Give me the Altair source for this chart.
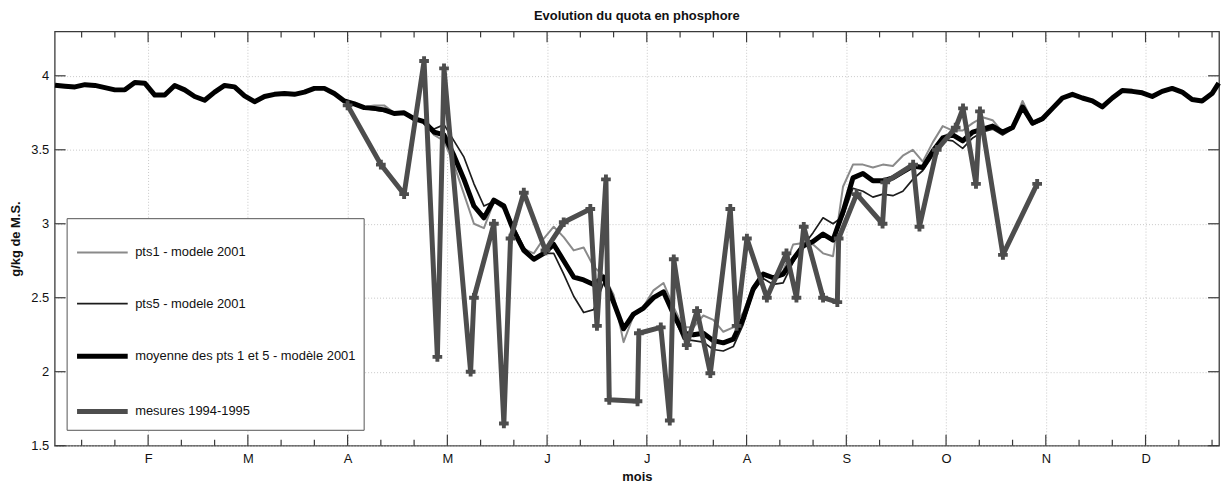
import json
import altair as alt
import pandas as pd

# ---------------- data ----------------
# model outputs sampled every 3 days (x = day, 30-day months, F = 30)
days = list(range(2, 351, 3)) + [352]

common_start = [3.936, 3.93, 3.925, 3.94, 3.935, 3.92, 3.905, 3.905, 3.955, 3.95,
                3.87, 3.87, 3.935, 3.905, 3.86, 3.835, 3.89, 3.935, 3.925, 3.865,
                3.825, 3.86, 3.875, 3.88, 3.875, 3.89, 3.915, 3.915, 3.88, 3.83]

common_end = [3.78, 3.85, 3.875, 3.85, 3.83, 3.79, 3.85, 3.90, 3.895, 3.885,
              3.86, 3.895, 3.915, 3.89, 3.84, 3.83, 3.88, 3.95]

pts1_mid = [3.82, 3.79, 3.80, 3.80, 3.75, 3.75, 3.71, 3.69, 3.60, 3.56,
            3.40, 3.20, 3.00, 2.97, 3.15, 3.10, 2.95, 2.83, 2.80, 2.90,
            2.98, 2.91, 2.82, 2.84, 2.71, 2.65, 2.52, 2.20, 2.38, 2.44,
            2.55, 2.60, 2.44, 2.30, 2.30, 2.38, 2.35, 2.27, 2.30, 2.40,
            2.58, 2.66, 2.64, 2.68, 2.86, 2.87, 2.86, 2.80, 2.78, 3.25,
            3.40, 3.40, 3.38, 3.40, 3.39, 3.46, 3.50, 3.42, 3.55, 3.66,
            3.63, 3.63, 3.68, 3.72, 3.70, 3.62, 3.66, 3.83, 3.69, 3.72]

pts5_mid = [3.81, 3.78, 3.77, 3.76, 3.74, 3.745, 3.70, 3.69, 3.64, 3.67,
            3.56, 3.45, 3.27, 3.12, 3.15, 3.13, 2.98, 2.84, 2.77, 2.80,
            2.80, 2.66, 2.51, 2.40, 2.42, 2.60, 2.45, 2.30, 2.38, 2.42,
            2.50, 2.53, 2.38, 2.22, 2.21, 2.20, 2.15, 2.14, 2.17, 2.32,
            2.54, 2.63, 2.59, 2.60, 2.74, 2.85, 2.94, 3.04, 3.00, 3.05,
            3.24, 3.22, 3.18, 3.20, 3.19, 3.22, 3.30, 3.36, 3.46, 3.57,
            3.56, 3.51, 3.58, 3.62, 3.64, 3.60, 3.64, 3.77, 3.67, 3.70]

mean_mid = [3.81, 3.785, 3.78, 3.77, 3.745, 3.75, 3.71, 3.69, 3.62, 3.60,
            3.46, 3.30, 3.12, 3.04, 3.16, 3.12, 2.95, 2.82, 2.76, 2.80,
            2.86, 2.75, 2.64, 2.62, 2.59, 2.64, 2.47, 2.29, 2.39, 2.43,
            2.50, 2.54, 2.39, 2.26, 2.25, 2.26, 2.21, 2.195, 2.22, 2.36,
            2.56, 2.66, 2.635, 2.66, 2.76, 2.85, 2.88, 2.93, 2.89, 3.08,
            3.31, 3.34, 3.29, 3.29, 3.31, 3.35, 3.39, 3.38, 3.49, 3.58,
            3.60, 3.56, 3.62, 3.64, 3.66, 3.62, 3.65, 3.79, 3.68, 3.71]

pts1 = common_start + pts1_mid + common_end
pts5 = common_start + pts5_mid + common_end
moyenne = common_start + mean_mid + common_end

mes_days = [90, 100, 107, 113, 117, 119, 127, 128, 134, 137,
            139, 143, 149.5, 155, 163, 165, 167.7, 168.7, 177.2, 177.6,
            184.2, 186.9, 188.1, 192, 195.1, 199.1, 205.1, 207, 210.1, 216.1,
            222, 225, 227.2, 233, 237.3, 237.7, 243.1, 250.9, 251.7, 260.1,
            262, 267.2, 272.9, 275.1, 279, 280.2, 287.1, 297.4]
mes_vals = [3.80, 3.40, 3.20, 4.10, 2.10, 4.05, 2.00, 2.50, 3.00, 1.65,
            2.90, 3.21, 2.82, 3.01, 3.10, 2.31, 3.30, 1.81, 1.80, 2.26,
            2.30, 1.67, 2.76, 2.18, 2.41, 1.99, 3.10, 2.31, 2.90, 2.50,
            2.80, 2.50, 2.98, 2.50, 2.47, 2.90, 3.20, 3.00, 3.28, 3.40,
            2.98, 3.50, 3.65, 3.78, 3.27, 3.76, 2.79, 3.27]

series_names = ["pts1 - modele 2001", "pts5 - modele 2001",
                "moyenne des pts 1 et 5 - modèle 2001", "mesures 1994-1995"]
series_colors = ["#8a8a8a", "#1c1c1c", "#000000", "#4d4d4d"]
series_widths = [2, 1.7, 5, 5]

month_days = [30, 60, 90, 120, 150, 180, 210, 240, 270, 300, 330]
month_labels = ["F", "M", "A", "M", "J", "J", "A", "S", "O", "N", "D"]
minor_days = [10, 20, 40, 50, 70, 80, 100, 110, 130, 140, 160, 170, 190, 200,
              220, 230, 250, 260, 280, 290, 310, 320, 340, 350]
y_ticks = [1.5, 2, 2.5, 3, 3.5, 4]

# ---------------- tables ----------------
frames = []
for name, vals in zip(series_names[:3], [pts1, pts5, moyenne]):
    frames.append(pd.DataFrame({"jour": days, "valeur": vals, "serie": name}))
frames.append(pd.DataFrame({"jour": mes_days, "valeur": mes_vals, "serie": series_names[3]}))
df = pd.concat(frames, ignore_index=True)
df_mes = frames[3]
df_major = pd.DataFrame({"jour": month_days})
df_minor = pd.DataFrame({"jour": minor_days})
df_y = pd.DataFrame({"valeur": y_ticks})

W, H = 1172, 417
FONT = "Liberation Sans"
FRAME = "#3a3a3a"
FS = 13

x_enc = alt.X(
    "jour:Q",
    scale=alt.Scale(domain=[1.9, 352.1], nice=False, zero=False),
    axis=alt.Axis(
        values=month_days,
        labelExpr=f"{json.dumps(month_labels)}[round(datum.value / 30) - 1]",
        ticks=False, domain=False, grid=True,
        gridColor="#c8c8c8", gridDash=[1, 2], gridWidth=1,
        labelFontSize=FS, labelPadding=7, labelColor="#111",
        titleFontSize=FS, titleFontWeight="bold", titlePadding=5, titleColor="#111",
    ),
    title="mois",
)
y_enc = alt.Y(
    "valeur:Q",
    scale=alt.Scale(domain=[1.5, 4.3], nice=False, zero=False),
    axis=alt.Axis(
        values=y_ticks, format="~g",
        ticks=False, domain=False, grid=True,
        gridColor="#c8c8c8", gridDash=[1, 2], gridWidth=1,
        labelFontSize=FS, labelPadding=6, labelColor="#111",
        titleFontSize=FS, titleFontWeight="bold", titlePadding=8, titleColor="#111",
    ),
    title="g/kg de M.S.",
)

leg = alt.Legend(
    orient="none", legendX=12, legendY=188, title=None,
    symbolType="stroke", symbolSize=2601, labelFontSize=FS, labelOffset=5,
    padding=8, rowPadding=17.5, strokeColor="#555555", fillColor="white",
    labelLimit=500, labelColor="#111",
)
color_enc = alt.Color("serie:N", scale=alt.Scale(domain=series_names, range=series_colors), legend=leg)
width_enc = alt.StrokeWidth("serie:N", scale=alt.Scale(type="ordinal", domain=series_names, range=series_widths), legend=leg)

layers = []
for name in series_names:
    layers.append(
        alt.Chart(df).transform_filter(alt.datum.serie == name)
        .mark_line(strokeJoin="round")
        .encode(x=x_enc, y=y_enc, color=color_enc, strokeWidth=width_enc)
    )

points = alt.Chart(df_mes).mark_point(
    shape="cross", filled=True, size=95, color="#4d4d4d", opacity=1
).encode(x=x_enc, y=y_enc)
layers.append(points)

tick_style = dict(color=FRAME, strokeWidth=1.2)
layers += [
    alt.Chart(df_major).mark_rule(**tick_style).encode(x=x_enc, y=alt.value(H), y2=alt.value(H - 11)),
    alt.Chart(df_minor).mark_rule(**tick_style).encode(x=x_enc, y=alt.value(H), y2=alt.value(H - 6)),
    alt.Chart(df_major).mark_rule(**tick_style).encode(x=x_enc, y=alt.value(0), y2=alt.value(11)),
    alt.Chart(df_minor).mark_rule(**tick_style).encode(x=x_enc, y=alt.value(0), y2=alt.value(6)),
    alt.Chart(df_y).mark_rule(**tick_style).encode(y=y_enc, x=alt.value(0), x2=alt.value(11)),
    alt.Chart(df_y).mark_rule(**tick_style).encode(y=y_enc, x=alt.value(W), x2=alt.value(W - 11)),
]

chart = (
    alt.layer(*layers)
    .properties(
        width=W, height=H,
        title=alt.TitleParams("Evolution du quota en phosphore", fontSize=FS,
                              fontWeight="bold", anchor="middle", offset=8, color="#111"),
        autosize=alt.AutoSizeParams(type="none"),
        padding={"left": 47, "top": 22, "right": 4, "bottom": 39},
        background="white",
    )
    .configure(font=FONT)
    .configure_view(stroke=FRAME, strokeWidth=1.3)
)

chart.save("out.html", embed_options={"renderer": "svg", "actions": False})
